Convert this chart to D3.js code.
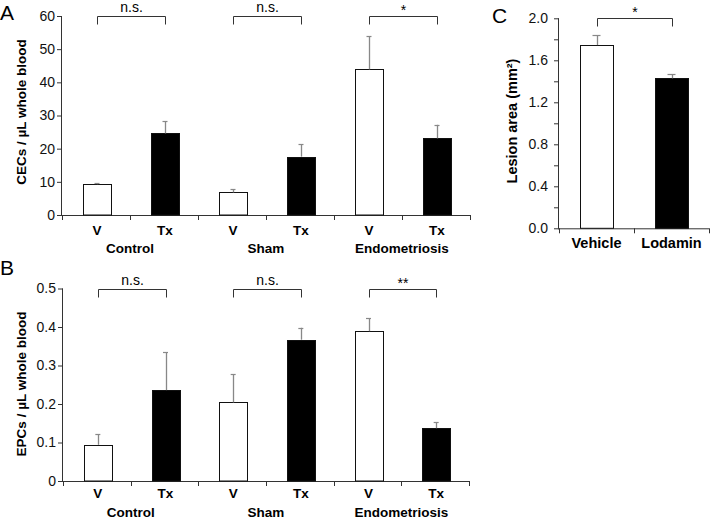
<!DOCTYPE html>
<html><head><meta charset="utf-8">
<script src="https://cdn.jsdelivr.net/npm/d3@7"></script>
<style>body{margin:0;background:#fff}svg{display:block;font-family:"Liberation Sans",Arial,sans-serif}</style>
</head><body><svg id="chart" width="710" height="520"></svg>
<script>
// ---- data ----
const treatments = ["V", "Tx", "V", "Tx", "V", "Tx"];
const groups = ["Control", "Sham", "Endometriosis"];
const cecMean = [9.3, 24.6, 6.8, 17.6, 43.9, 23.1];
const cecErr = [0.3, 3.6, 1.0, 3.7, 10.0, 4.1];
const cecTicks = [0, 10, 20, 30, 40, 50, 60];
const cecSig = ["n.s.", "n.s.", "*"];
const epcMean = [0.094, 0.236, 0.204, 0.367, 0.389, 0.137];
const epcErr = [0.027, 0.099, 0.073, 0.031, 0.034, 0.015];
const epcTicks = [0, 0.1, 0.2, 0.3, 0.4, 0.5];
const epcSig = ["n.s.", "n.s.", "**"];
const lesionCats = ["Vehicle", "Lodamin"];
const lesionMean = [1.745, 1.428];
const lesionErr = [0.095, 0.04];
const lesionTicks = [0, 0.2, 0.4, 0.6, 0.8, 1.0, 1.2, 1.4, 1.6, 1.8, 2.0];
const lesionLabelTicks = [0, 0.4, 0.8, 1.2, 1.6, 2.0];
const lesionSig = ["*"];
const fills = ["#fff", "#000"];

const svg = d3.select("#chart");
const AX = "#333", ERR = "#888";

function panel(o) {
  const g = svg.append("g");
  const idx = d3.range(o.means.length);
  const x = d3.scaleBand().domain(idx).range([o.x0, o.x1]);
  const y = d3.scaleLinear().domain([0, o.ymax]).range([o.yb, o.yt]);
  const bw = x.bandwidth() * o.bwFrac;
  const cx = i => x(i) + x.bandwidth() / 2 + o.shift;

  // y axis
  const ya = d3.axisLeft(y).tickValues(o.ticks).tickSize(5).tickSizeOuter(0).tickPadding(o.tpad)
    .tickFormat(d => o.labelTicks ? (o.labelTicks.some(v => Math.abs(v - d) < 1e-9) ? o.fmt(d) : "") : o.fmt(d));
  const yg = g.append("g").attr("transform", `translate(${o.x0},0)`).call(ya);
  yg.select(".domain").attr("stroke", AX).attr("d", `M-0.5,${o.yt}V${o.yb}`);
  yg.selectAll(".tick line").attr("stroke", AX);
  yg.selectAll("text").attr("font-size", 14).attr("fill", "#111").attr("font-family", "Liberation Sans, Arial, sans-serif");

  // x axis line with boundary ticks
  g.append("line").attr("x1", o.x0 - 1).attr("x2", o.x1).attr("y1", o.yb + 0.5).attr("y2", o.yb + 0.5).attr("stroke", AX);
  const bounds = idx.map(i => x(i)).concat([o.x1]);
  g.selectAll(".xt").data(bounds).join("line")
    .attr("x1", d => Math.round(d) + 0.5).attr("x2", d => Math.round(d) + 0.5)
    .attr("y1", o.yb).attr("y2", o.yb + 5).attr("stroke", AX);

  // bars
  g.selectAll(".bar").data(idx).join("rect")
    .attr("x", i => Math.round(cx(i) - bw / 2) + 0.5).attr("width", Math.round(bw))
    .attr("y", i => Math.round(y(o.means[i])) + 0.5).attr("height", i => o.yb - Math.round(y(o.means[i])) - 0.5)
    .attr("fill", i => fills[i % 2]).attr("stroke", "#111").attr("stroke-width", 1);

  // error bars
  const eg = g.selectAll(".err").data(idx).join("g");
  eg.append("line").attr("x1", i => Math.round(cx(i)) + 0.5).attr("x2", i => Math.round(cx(i)) + 0.5)
    .attr("y1", i => y(o.means[i])).attr("y2", i => y(o.means[i] + o.errs[i]))
    .attr("stroke", ERR).attr("stroke-width", 1.3);
  eg.append("line").attr("x1", i => cx(i) - o.cap).attr("x2", i => cx(i) + o.cap)
    .attr("y1", i => Math.round(y(o.means[i] + o.errs[i])) + 0.5).attr("y2", i => Math.round(y(o.means[i] + o.errs[i])) + 0.5)
    .attr("stroke", ERR).attr("stroke-width", 1.2);

  // category labels
  g.selectAll(".cl").data(idx).join("text")
    .attr("x", i => x(i) + x.bandwidth() / 2 + o.shift).attr("y", o.catY)
    .attr("text-anchor", "middle").attr("font-weight", "bold").attr("font-size", o.catSize)
    .text(i => o.cats[i]);
  if (o.groups) {
    g.selectAll(".gl").data(o.groups).join("text")
      .attr("x", (d, j) => x(2 * j + 1)).attr("y", o.grpY)
      .attr("text-anchor", "middle").attr("font-weight", "bold").attr("font-size", o.catSize)
      .text(d => d);
  }

  // significance brackets
  const by = Math.round(y(o.ymax)) + 0.5;
  o.sig.forEach((s, j) => {
    const a = Math.round(cx(2 * j)) + 0.5, b = Math.round(cx(2 * j + 1)) + 0.5;
    g.append("path").attr("d", `M${a},${by + 8}V${by}H${b}V${by + 8}`)
      .attr("fill", "none").attr("stroke", AX).attr("stroke-width", 1);
    const star = s.indexOf("*") >= 0;
    g.append("text").attr("x", (a + b) / 2).attr("y", star ? by - 2 : by - 5)
      .attr("text-anchor", "middle").attr("font-size", 14).text(s);
  });

  // y label
  g.append("text").attr("transform", `translate(${o.labX},${o.labY}) rotate(-90)`)
    .attr("text-anchor", "middle").attr("dominant-baseline", "middle")
    .attr("font-weight", "bold").attr("font-size", o.labSize).text(o.ylabel);

  // panel letter
  g.append("text").attr("x", o.letX).attr("y", o.letY).attr("font-size", 21).text(o.letter);
}

panel({ means: cecMean, errs: cecErr, cats: treatments, groups: groups, sig: cecSig,
  x0: 62, x1: 470, yb: 215, yt: 16, ymax: 60, ticks: cecTicks, fmt: d3.format("d"), tpad: 2,
  bwFrac: 0.41, shift: 1, cap: 2.5, catY: 235, grpY: 253, catSize: 13.5,
  ylabel: "CECs / µL whole blood", labX: 22, labY: 112, labSize: 13.5, letter: "A", letX: 0, letY: 20 });

panel({ means: epcMean, errs: epcErr, cats: treatments, groups: groups, sig: epcSig,
  x0: 63, x1: 469, yb: 481, yt: 288.5, ymax: 0.5, ticks: epcTicks, fmt: d => d === 0 ? "0" : d3.format(".1f")(d), tpad: 2,
  bwFrac: 0.41, shift: 1, cap: 2.5, catY: 498, grpY: 516.5, catSize: 13.5,
  ylabel: "EPCs / µL whole blood", labX: 22, labY: 384, labSize: 13.5, letter: "B", letX: 0, letY: 275 });

panel({ means: lesionMean, errs: lesionErr, cats: lesionCats, groups: null, sig: lesionSig,
  x0: 559, x1: 709, yb: 228.3, yt: 18.3, ymax: 2.0, ticks: lesionTicks, labelTicks: lesionLabelTicks,
  fmt: d3.format(".1f"), tpad: 6,
  bwFrac: 0.44, shift: 0, cap: 4, catY: 248, grpY: 0, catSize: 14.5,
  ylabel: "Lesion area (mm²)", labX: 513, labY: 121, labSize: 14.5, letter: "C", letX: 492, letY: 23 });
</script></body></html>
